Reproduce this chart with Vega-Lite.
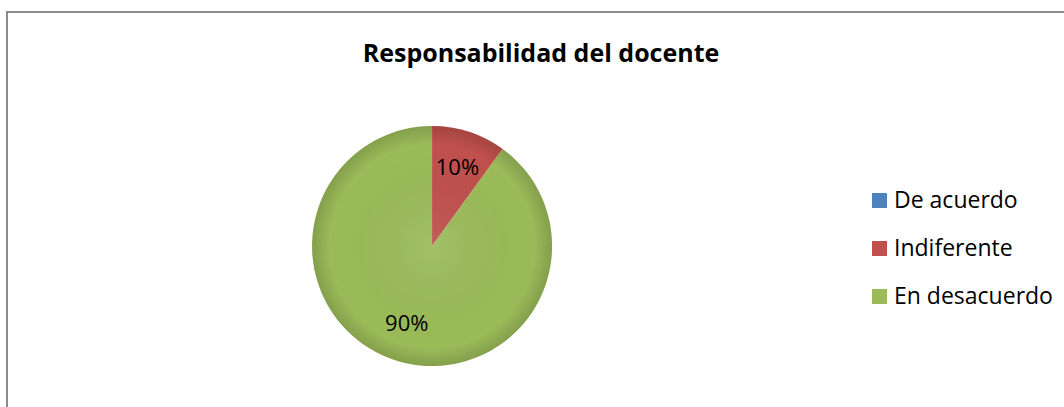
{
  "$schema": "https://vega.github.io/schema/vega-lite/v6.json",
  "width": 1060,
  "height": 400,
  "autosize": "none",
  "padding": {"left": 7, "top": 12, "right": 0, "bottom": 0},
  "background": "white",
  "config": {"view": {"stroke": "#8c8c8c", "strokeWidth": 2}, "font": "Open Sans"},
  "title": {"text": "Responsabilidad del docente", "fontSize": 25, "fontWeight": "bold", "font": "Open Sans", "color": "black", "anchor": "middle", "frame": "group", "offset": -56, "dx": 4},
  "data": {"values": [
    {"categoria": "De acuerdo", "valor": 0, "orden": 1, "etiqueta": "0%"},
    {"categoria": "Indiferente", "valor": 10, "orden": 2, "etiqueta": "10%"},
    {"categoria": "En desacuerdo", "valor": 90, "orden": 3, "etiqueta": "90%"}
  ]},
  "layer": [
    {
      "transform": [{"filter": "datum.orden == 1"}],
      "mark": {"type": "rect", "fill": "transparent", "stroke": "#8c8c8c", "strokeWidth": 2},
      "encoding": {}
    },
    {
      "mark": {"type": "arc", "radius": 120, "x": {"expr": "width*0.401"}, "y": {"expr": "height*0.585"}},
      "encoding": {
        "theta": {"field": "valor", "type": "quantitative", "stack": true},
        "order": {"field": "orden", "type": "quantitative"},
        "color": {"field": "categoria", "type": "nominal",
          "scale": {"domain": ["De acuerdo", "Indiferente", "En desacuerdo"], "range": ["#4F81BD", "#C0504D", "#9BBB59"]},
          "legend": {"title": null, "orient": "none", "legendX": 861, "legendY": 177, "symbolType": "square", "symbolSize": 225, "symbolStrokeWidth": 0, "symbolOpacity": 1, "labelFontSize": 23, "labelFont": "Open Sans", "labelColor": "black", "rowPadding": 24, "labelOffset": 3}
        }
      }
    },
    {
      "transform": [{"filter": "datum.orden == 1"}],
      "mark": {"type": "arc", "radius": 120, "theta": 0, "theta2": 6.2832, "x": {"expr": "width*0.401"}, "y": {"expr": "height*0.585"},
        "fill": {"gradient": "radial", "x1": 0.5, "y1": 0.5, "x2": 0.5, "y2": 0.5, "r1": 0, "r2": 0.5,
          "stops": [{"offset": 0, "color": "rgba(255,255,255,0.08)"}, {"offset": 0.85, "color": "rgba(0,0,0,0)"}, {"offset": 1, "color": "rgba(0,0,0,0.15)"}]}},
      "encoding": {}
    },
    {
      "transform": [{"filter": "datum.valor > 0"}],
      "mark": {"type": "text", "radius": 82, "fontSize": 22, "font": "Open Sans", "color": "black", "x": {"expr": "width*0.401"}, "y": {"expr": "height*0.585"}},
      "encoding": {
        "theta": {"field": "valor", "type": "quantitative", "stack": true},
        "order": {"field": "orden", "type": "quantitative"},
        "text": {"field": "etiqueta", "type": "nominal"}
      }
    }
  ]
}
